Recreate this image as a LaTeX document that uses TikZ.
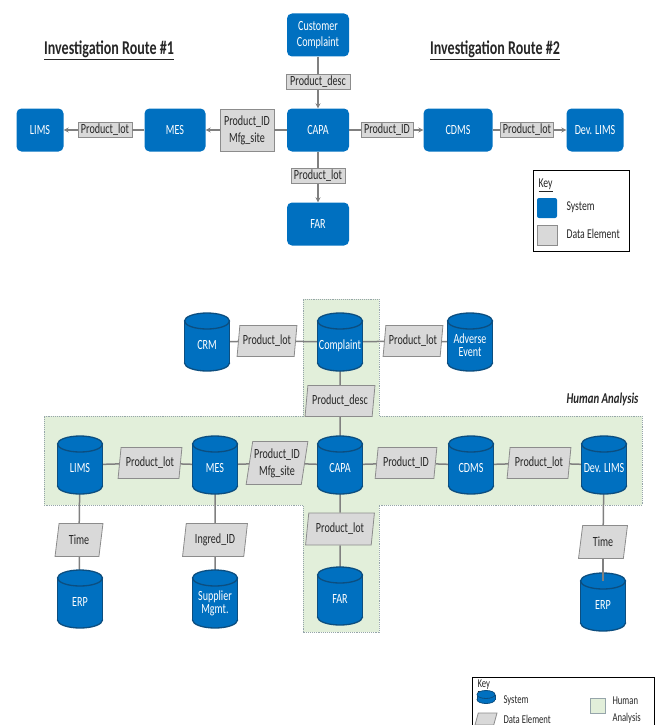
\documentclass[tikz,border=0pt]{standalone}
\usepackage{fontspec}
\setmainfont{Carlito}[FakeStretch=0.72]
\usetikzlibrary{shapes.geometric,arrows.meta}
\definecolor{sysblue}{RGB}{0,112,192}
\definecolor{sysdark}{RGB}{12,78,128}
\definecolor{lblfill}{RGB}{217,217,217}
\definecolor{lbldraw}{RGB}{140,140,140}
\definecolor{conn}{RGB}{128,128,128}
\definecolor{hfill}{RGB}{226,239,218}
\definecolor{hdraw}{RGB}{150,165,170}
\definecolor{txt}{RGB}{38,38,38}
\pgfdeclarelayer{bg}\pgfdeclarelayer{mid}\pgfsetlayers{bg,mid,main}
\newcommand\dbt[1]{\raisebox{-5pt}[\height][\depth]{\renewcommand\arraystretch{0.85}\begin{tabular}{@{}c@{}}#1\end{tabular}}}
% cylinder graphic: x, y, half width, half body, y radius, line width
\newcommand\cyl[6]{%
  \filldraw[fill=sysblue,draw=sysdark,line width=#6] (#1,#2+#4) ellipse [x radius=#3pt, y radius=#5pt];
  \fill[sysblue] (#1-#3,#2-#4) rectangle (#1+#3,#2+#4);
  \draw[sysdark,line width=#6] (#1-#3,#2-#4) -- (#1-#3,#2+#4) (#1+#3,#2-#4) -- (#1+#3,#2+#4);
  \filldraw[fill=sysblue,draw=sysdark,line width=#6] (#1,#2-#4) ellipse [x radius=#3pt, y radius=#5pt];
}
\newcommand\dbnode[4]{\cyl{#2}{#3}{22.5}{21}{8}{1.3pt}\node[dbtxt] (#1) at (#2,#3) {\dbt{#4}};}
\begin{document}
\begin{tikzpicture}[x=1pt,y=-1pt,
  fnt/.style={font=\fontsize{14}{17}\selectfont},
  sysbox/.style={rectangle, rounded corners=5pt, fill=sysblue, text=white, fnt, align=center, inner sep=0pt, minimum height=43pt},
  databox/.style={rectangle, fill=lblfill, draw=lbldraw, line width=0.8pt, text=txt, fnt, align=center, inner sep=0pt, minimum height=15pt},
  dbtxt/.style={rectangle, minimum width=45pt, minimum height=58pt, inner sep=0pt, text=white, font=\fontsize{14}{16}\selectfont, align=center},
  para/.style={trapezium, trapezium left angle=78, trapezium right angle=102, trapezium stretches=true, fill=lblfill, draw=lbldraw, line width=0.8pt, minimum height=31pt, text=txt, fnt, align=center, inner sep=0pt},
  ln/.style={draw=conn, line width=1.5pt},
  arr/.style={ln, -{Stealth[length=5pt,width=5pt]}},
  ttl/.style={font=\bfseries\fontsize{19.5}{22}\selectfont, text=txt},
  keytxt/.style={anchor=west, text=txt, font=\fontsize{13.5}{15}\selectfont}
]
\path[use as bounding box, clip] (0,0) rectangle (659,725);
% ---------- top part ----------
\node[ttl] (t1) at (109,50) {\underline{Investigation Route \#1}};
\node[ttl] (t2) at (495,50) {\underline{Investigation Route \#2}};
\node[sysbox, minimum width=62pt] (cc) at (318,35) {Customer\\[-1pt]Complaint};
\node[databox, minimum width=64pt] (pdesc) at (318,82) {Product\_desc};
\node[sysbox, minimum width=62pt] (capa) at (318,130) {CAPA};
\node[databox, minimum width=54pt] (plotd) at (318,176) {Product\_lot};
\node[sysbox, minimum width=62pt] (far) at (318,224) {FAR};
\node[sysbox, minimum width=61pt] (mes) at (175,130) {MES};
\node[databox, minimum width=54pt, minimum height=42pt] (pidm) at (247,130) {Product\_ID\\Mfg\_site};
\node[sysbox, minimum width=47pt] (lims) at (40,130) {LIMS};
\node[databox, minimum width=54pt] (plotl) at (105,130) {Product\_lot};
\node[databox, minimum width=52pt] (pid) at (387,130) {Product\_ID};
\node[sysbox, minimum width=69pt] (cdms) at (458,130) {CDMS};
\node[databox, minimum width=53pt] (plotr) at (527,130) {Product\_lot};
\node[sysbox, minimum width=57pt] (dlims) at (595,130) {Dev. LIMS};
\draw[ln] (cc) -- (pdesc);
\draw[arr] (pdesc) -- (capa);
\draw[ln] (capa) -- (plotd);
\draw[arr] (plotd) -- (far);
\draw[ln] (capa) -- (pidm);
\draw[arr] (pidm) -- (mes);
\draw[ln] (mes) -- (plotl);
\draw[arr] (plotl) -- (lims);
\draw[ln] (capa) -- (pid);
\draw[arr] (pid) -- (cdms);
\draw[ln] (cdms) -- (plotr);
\draw[arr] (plotr) -- (dlims);
% key 1
\node[draw=black, line width=1pt, minimum width=96pt, minimum height=81pt, inner sep=0pt] (key1) at (581,210.5) {};
\node[keytxt] (k1t) at (535,185) {\underline{Key}};
\node[fill=sysblue, rounded corners=2pt, minimum size=20pt, inner sep=0pt] (k1s) at (547,208) {};
\node[keytxt] (k1st) at (563,207) {System};
\node[fill=lblfill, draw=lbldraw, minimum size=20pt, inner sep=0pt] (k1d) at (547,235) {};
\node[keytxt] (k1dt) at (563,234) {Data Element};
% ---------- bottom part ----------
\begin{pgfonlayer}{bg}
\filldraw[fill=hfill, draw=hdraw, densely dotted, line width=0.9pt]
  (303,299) -- (379,299) -- (379,416) -- (642,416) -- (642,505) -- (379,505)
  -- (379,632) -- (303,632) -- (303,505) -- (44,505) -- (44,416) -- (303,416) -- cycle;
\end{pgfonlayer}
\node[font=\bfseries\itshape\fontsize{15}{18}\selectfont, text=txt, anchor=east] (ha) at (642,399) {Human Analysis};
\dbnode{crm}{207}{342}{CRM}
\dbnode{comp}{340}{342}{Complaint}
\dbnode{adv}{470}{342}{Adverse\\Event}
\node[para, minimum width=60pt] (b1) at (267,341) {Product\_lot};
\node[para, minimum width=60pt] (b2) at (413,341) {Product\_lot};
\node[para, minimum width=70pt] (b3) at (340,401) {Product\_desc};
\dbnode{lims2}{80}{465}{LIMS}
\dbnode{mes2}{215}{465}{MES}
\dbnode{capa2}{340}{465}{CAPA}
\dbnode{cdms2}{471}{465}{CDMS}
\dbnode{dlims2}{604}{465}{Dev. LIMS}
\node[para, minimum width=64pt] (b4) at (150,463) {Product\_lot};
\node[para, minimum width=62pt, minimum height=43pt] (b5) at (277,463) {Product\_ID\\Mfg\_site};
\node[para, minimum width=62pt] (b6) at (406,463) {Product\_ID};
\node[para, minimum width=64pt] (b7) at (539,463) {Product\_lot};
\node[para, minimum width=48pt, minimum height=33pt] (b8) at (79,540) {Time};
\dbnode{erp1}{80}{599}{ERP}
\node[para, minimum width=65pt, minimum height=33pt] (b9) at (215,540) {Ingred\_ID};
\dbnode{supp}{215}{599}{Supplier\\Mgmt.}
\node[para, minimum width=69pt, minimum height=32pt] (b10) at (340,529) {Product\_lot};
\dbnode{far2}{340}{596}{FAR}
\node[para, minimum width=49pt, minimum height=33pt] (b11) at (603,542) {Time};
\dbnode{erp2}{603}{602}{ERP}
\coordinate (erp2c) at (603,581);
\begin{pgfonlayer}{mid}
\draw[ln] (crm) -- (b1) -- (comp) -- (b2) -- (adv);
\draw[ln] (comp) -- (b3) -- (capa2);
\draw[ln] (lims2) -- (b4) -- (mes2) -- (b5) -- (capa2) -- (b6) -- (cdms2) -- (b7) -- (dlims2);
\draw[ln] (lims2) -- (b8) -- (erp1);
\draw[ln] (mes2) -- (b9) -- (supp);
\draw[ln] (capa2) -- (b10) -- (far2);
\draw[ln] (dlims2) -- (b11);
\end{pgfonlayer}
\draw[ln] (b11) -- (erp2c);
% key 2
\node[draw=black, line width=1pt, anchor=north west, minimum width=182pt, minimum height=70pt, inner sep=0pt] (key2) at (472,677) {};
\node[keytxt, font=\fontsize{12}{14}\selectfont] (k2t) at (474,686) {\underline{Key}};
\cyl{486}{697}{9}{2.5}{4}{0.8pt}
\coordinate (k2s) at (486,697);
\node[keytxt, font=\fontsize{12}{14}\selectfont] (k2st) at (500,701) {System};
\node[para, minimum width=22pt, minimum height=12pt, inner sep=1pt] (k2d) at (486,719) {};
\node[keytxt, font=\fontsize{12}{14}\selectfont] (k2dt) at (500,719) {Data Element};
\node[fill=hfill, draw=hdraw, line width=0.8pt, minimum size=15pt, inner sep=0pt] (k2h) at (598,706) {};
\node[keytxt, font=\fontsize{12}{14}\selectfont] (k2ht) at (609,701) {Human};
\node[keytxt, font=\fontsize{12}{14}\selectfont] (k2at) at (609,718) {Analysis};
\end{tikzpicture}
\end{document}
